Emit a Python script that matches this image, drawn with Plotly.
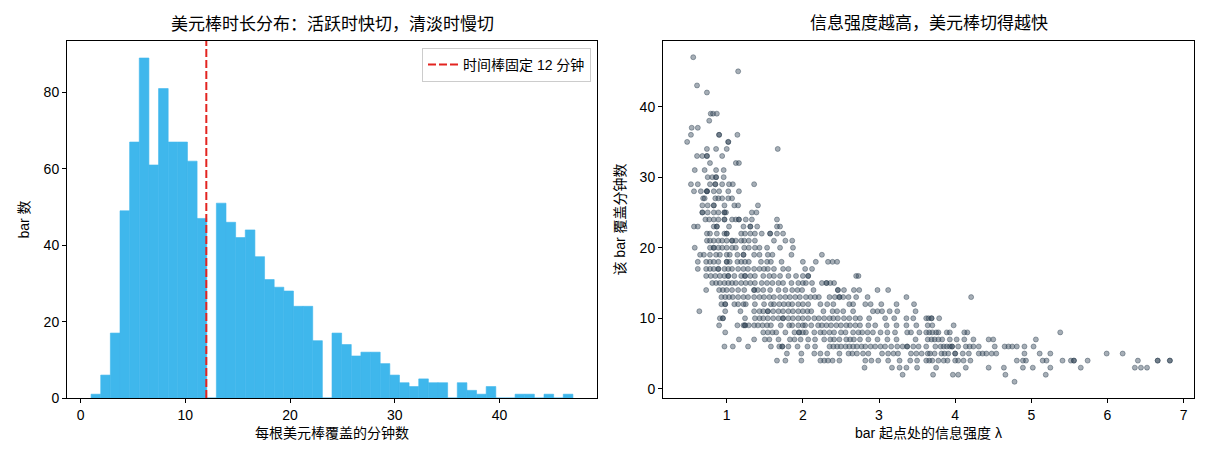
import numpy as np
import plotly.graph_objects as go

# ---- histogram data: how many bars cover N minutes ----
minutes = list(range(1, 48))
bar_counts = [1, 6, 17, 49, 67, 89, 61, 81, 67, 67, 62, 47,
              51, 46, 42, 44, 37, 31, 29, 28, 24, 24, 15,
              17, 14, 11, 12, 12, 9, 6, 4, 3, 5, 4, 4,
              4, 2, 1, 3, 0, 0, 1, 1, 0, 1, 0, 1]
n_bins = 50
time_bar_minutes = 12

# ---- scatter data: (minutes covered, list of intensity λ at bar start) ----
scatter_rows = [
    (47, [0.56]),
    (45, [1.15]),
    (43, [0.61]),
    (42, [0.74]),
    (39, [0.79, 0.82, 0.87]),
    (38, [0.77]),
    (37, [0.54, 0.62]),
    (36, [0.53, 0.90, 0.90, 1.14]),
    (35, [0.48, 1.02, 1.02]),
    (34, [0.74, 0.86, 1.00, 1.67]),
    (33, [0.61, 0.68, 0.74, 0.74, 0.94]),
    (32, [0.78, 1.12, 1.16]),
    (31, [0.58, 0.71, 0.86, 0.96]),
    (30, [0.75, 0.81, 0.86, 0.86, 0.96]),
    (29, [0.53, 0.62, 0.78, 0.85, 0.85, 0.94, 1.03, 1.08, 1.36]),
    (28, [0.57, 0.66, 0.74, 0.74, 0.74, 0.83, 0.90, 1.02, 1.16]),
    (27, [0.69, 0.71, 0.85, 0.89, 0.94, 1.02, 1.07]),
    (26, [0.68, 0.75, 0.83, 0.83, 0.97, 1.10, 1.15, 1.41]),
    (25, [0.68, 0.68, 0.75, 0.83, 0.89, 0.97, 0.97, 0.99, 1.33, 1.39]),
    (24, [0.72, 0.77, 0.83, 0.89, 0.97, 0.97, 1.07, 1.12, 1.16, 1.16, 1.25, 1.33, 1.66]),
    (23, [0.57, 0.62, 0.83, 0.87, 0.87, 1.03, 1.22, 1.31, 1.31, 1.40, 1.66, 1.70]),
    (22, [0.74, 0.78, 0.87, 0.97, 1.00, 1.00, 1.19, 1.24, 1.31, 1.37, 1.46, 1.57, 1.57,
          1.66, 1.74]),
    (21, [0.74, 0.78, 0.83, 0.89, 0.94, 1.00, 1.07, 1.07, 1.12, 1.19, 1.23, 1.29, 1.37,
          1.62, 1.77, 1.86]),
    (20, [0.58, 0.78, 0.83, 0.83, 0.89, 0.94, 1.00, 1.07, 1.12, 1.23, 1.29, 1.37, 1.43,
          1.53, 1.70, 1.87]),
    (19, [0.65, 0.70, 0.78, 0.86, 0.91, 1.00, 1.04, 1.14, 1.22, 1.22, 1.36, 1.43, 1.54,
          1.60, 1.85, 2.25]),
    (18, [0.62, 0.73, 0.78, 0.83, 0.89, 1.00, 1.00, 1.04, 1.14, 1.19, 1.24, 1.29, 1.45,
          1.53, 1.58, 1.72, 2.00, 2.17, 2.33, 2.39, 2.45]),
    (17, [0.62, 0.73, 0.78, 0.83, 0.89, 0.89, 0.97, 1.02, 1.07, 1.15, 1.22, 1.28, 1.36,
          1.43, 1.49, 1.54, 1.62, 1.74, 1.81, 2.03, 2.12]),
    (16, [0.73, 0.79, 0.85, 0.91, 0.97, 1.02, 1.02, 1.10, 1.19, 1.24, 1.24, 1.31, 1.37,
          1.48, 1.56, 1.62, 1.70, 1.81, 1.91, 2.00, 2.07, 2.07, 2.70, 2.73]),
    (15, [0.81, 0.86, 0.91, 0.97, 1.02, 1.07, 1.12, 1.19, 1.25, 1.31, 1.37, 1.46, 1.53,
          1.60, 1.68, 1.74, 1.85, 1.94, 2.00, 2.04, 2.12, 2.25, 2.31, 2.31, 2.36, 2.41]),
    (14, [0.73, 0.90, 0.95, 1.00, 1.07, 1.15, 1.23, 1.36, 1.36, 1.41, 1.48, 1.57, 1.68,
          1.77, 1.86, 1.93, 1.99, 2.14, 2.46, 2.46, 2.54, 2.67, 2.74, 2.98, 3.12]),
    (13, [0.93, 0.98, 1.03, 1.08, 1.15, 1.22, 1.28, 1.36, 1.43, 1.49, 1.56, 1.62, 1.70,
          1.77, 1.83, 1.90, 1.96, 2.04, 2.10, 2.16, 2.21, 2.35, 2.42, 2.48, 2.48, 2.53,
          2.60, 2.70, 2.85, 3.36, 4.21]),
    (12, [0.93, 0.98, 0.98, 1.10, 1.15, 1.22, 1.25, 1.37, 1.49, 1.58, 1.62, 1.69, 1.75,
          1.81, 1.86, 1.94, 2.00, 2.07, 2.23, 2.32, 2.40, 2.61, 2.66, 2.82, 2.89, 3.03,
          3.23, 3.46]),
    (11, [0.64, 0.98, 1.18, 1.36, 1.43, 1.48, 1.54, 1.54, 1.61, 1.68, 1.74, 1.81, 1.87,
          1.94, 2.00, 2.06, 2.11, 2.27, 2.39, 2.45, 2.53, 2.66, 2.92, 2.98, 3.04, 3.14,
          3.24, 3.48]),
    (10, [0.91, 0.95, 0.95, 1.24, 1.37, 1.43, 1.48, 1.54, 1.61, 1.68, 1.74, 1.74, 1.81,
          1.87, 1.94, 2.00, 2.07, 2.15, 2.21, 2.28, 2.35, 2.40, 2.46, 2.54, 2.61, 2.69,
          2.75, 2.87, 3.08, 3.20, 3.36, 3.45, 3.62, 3.65, 3.69, 3.69, 3.79]),
    (9, [0.90, 1.14, 1.22, 1.24, 1.24, 1.29, 1.36, 1.41, 1.47, 1.53, 1.58, 1.71, 1.82,
         1.86, 1.94, 2.00, 2.03, 2.11, 2.20, 2.25, 2.31, 2.37, 2.44, 2.50, 2.57, 2.62,
         2.69, 2.75, 2.86, 2.95, 3.10, 3.23, 3.36, 3.49, 3.64, 3.70, 3.98]),
    (8, [0.98, 1.48, 1.54, 1.60, 1.65, 1.77, 1.89, 1.95, 1.95, 2.00, 2.04, 2.15, 2.23,
         2.28, 2.35, 2.41, 2.50, 2.56, 2.66, 2.73, 2.78, 2.85, 2.92, 3.02, 3.11, 3.21,
         3.37, 3.42, 3.53, 3.62, 3.66, 3.70, 3.75, 3.78, 3.89, 3.93, 4.12, 4.16, 5.38]),
    (7, [1.16, 1.36, 1.50, 1.56, 1.68, 1.83, 1.89, 1.97, 2.07, 2.16, 2.28, 2.36, 2.41,
         2.48, 2.57, 2.62, 2.67, 2.75, 2.86, 2.98, 3.11, 3.23, 3.48, 3.64, 3.69, 3.73,
         3.78, 3.83, 3.93, 4.02, 4.12, 4.24, 4.44, 4.50, 5.06]),
    (6, [0.97, 1.08, 1.28, 1.58, 1.69, 1.73, 1.73, 1.81, 1.93, 2.06, 2.16, 2.35, 2.40,
         2.45, 2.50, 2.56, 2.61, 2.66, 2.71, 2.77, 2.82, 2.89, 2.95, 3.02, 3.08, 3.16,
         3.24, 3.31, 3.37, 3.37, 3.45, 3.52, 3.62, 3.74, 3.81, 3.85, 3.89, 3.93, 3.96,
         3.96, 4.04, 4.14, 4.19, 4.24, 4.31, 4.52, 4.65, 4.70, 4.75, 4.81, 4.91, 5.03]),
    (5, [1.79, 1.98, 2.15, 2.23, 2.32, 2.48, 2.60, 2.65, 2.71, 2.79, 2.86, 3.04, 3.12,
         3.19, 3.25, 3.42, 3.49, 3.56, 3.64, 3.67, 3.73, 3.82, 3.86, 3.91, 4.00, 4.00,
         4.10, 4.18, 4.31, 4.36, 4.41, 4.48, 4.54, 4.91, 5.11, 5.25, 5.99, 6.20]),
    (4, [1.66, 1.77, 1.98, 2.23, 2.28, 2.33, 2.39, 2.48, 2.82, 2.90, 2.99, 3.12, 3.27,
         3.41, 3.50, 3.62, 3.66, 3.70, 3.78, 3.85, 3.90, 4.00, 4.04, 4.11, 4.20, 4.81,
         4.89, 4.93, 5.15, 5.20, 5.41, 5.52, 5.56, 5.56, 5.74, 6.40, 6.66, 6.66, 6.82,
         6.82]),
    (3, [2.81, 3.17, 3.27, 3.36, 3.50, 3.75, 4.14, 4.44, 4.64, 4.89, 5.02, 5.25, 5.65,
         6.36, 6.44, 6.52]),
    (2, [3.31, 3.71, 3.97, 4.04, 4.66, 5.19]),
    (1, [4.78]),
]

FONT = "Liberation Sans, Noto Sans CJK SC, sans-serif"
BAR_BLUE = "#3fb7ec"
LINE_RED = "#e32420"
DOT = "44,62,80"

# histogram like matplotlib's hist(bins=50)
durations = np.repeat(minutes, bar_counts)
hist, edges = np.histogram(durations, bins=n_bins)
centers = (edges[:-1] + edges[1:]) / 2
widths = np.diff(edges)

lam = [x for m, xs in scatter_rows for x in xs]
cover = [m for m, xs in scatter_rows for x in xs]


def pad(lo, hi, frac=0.05):
    d = (hi - lo) * frac
    return [lo - d, hi + d]


fig = go.Figure()

fig.add_trace(go.Bar(
    x=centers, y=hist, width=widths,
    marker=dict(color=BAR_BLUE, line=dict(width=0.6, color=BAR_BLUE)),
    showlegend=False, xaxis="x", yaxis="y",
))

y1_range = [0, hist.max() * 1.05]
fig.add_trace(go.Scatter(
    x=[time_bar_minutes, time_bar_minutes], y=y1_range,
    mode="lines", line=dict(color=LINE_RED, width=2, dash="8px,3px"),
    name="时间棒固定 12 分钟", xaxis="x", yaxis="y",
))

fig.add_trace(go.Scatter(
    x=lam, y=cover, mode="markers",
    marker=dict(size=5, color=f"rgba({DOT},0.42)",
                line=dict(width=0.7, color=f"rgba({DOT},0.6)")),
    showlegend=False, xaxis="x2", yaxis="y2",
))

ax_style = dict(
    showline=True, mirror=True, linecolor="black", linewidth=1,
    ticks="outside", ticklen=4, tickwidth=1, tickcolor="black",
    showgrid=False, zeroline=False, automargin=False,
    tickfont=dict(size=14, color="black", family=FONT),
    title_font=dict(size=14, color="black", family=FONT),
)

# plot areas in pixels (reference): left 67-597, right 663-1194, top 41, bottom 398
W, H = 1210, 462
ML, MR, MT, MB = 67, W - 1194, 41, H - 398
PW = W - ML - MR
PH = H - MT - MB

fig.update_layout(
    width=W, height=H,
    margin=dict(l=ML, r=MR, t=MT, b=MB, autoexpand=False),
    paper_bgcolor="white", plot_bgcolor="white",
    font=dict(family=FONT, color="black"),
    xaxis=dict(domain=[0, (597 - ML) / PW], range=pad(edges[0], edges[-1]),
               tickvals=[0, 10, 20, 30, 40],
               title=dict(text="每根美元棒覆盖的分钟数", standoff=6),
               anchor="y", **ax_style),
    yaxis=dict(domain=[0, 1], range=y1_range, tickvals=[0, 20, 40, 60, 80],
               title=dict(text="bar 数", standoff=10), anchor="x", **ax_style),
    xaxis2=dict(domain=[(663 - ML) / PW, 1], range=pad(min(lam), max(lam)),
                tickvals=[1, 2, 3, 4, 5, 6, 7],
                title=dict(text="bar 起点处的信息强度 λ", standoff=6),
                anchor="y2", **ax_style),
    yaxis2=dict(domain=[0, 1], range=pad(min(cover), max(cover)),
                tickvals=[0, 10, 20, 30, 40],
                title=dict(text="该 bar 覆盖分钟数", standoff=10),
                anchor="x2", **ax_style),
    legend=dict(x=(591 - ML) / PW, xanchor="right", y=1 - 7 / PH, yanchor="top",
                bgcolor="white", bordercolor="#cccccc", borderwidth=1,
                font=dict(size=14, family=FONT, color="black")),
    annotations=[
        dict(text="美元棒时长分布：活跃时快切，清淡时慢切",
             x=((67 + 597) / 2 - ML) / PW, y=1 + 17 / PH,
             xref="paper", yref="paper", xanchor="center", yanchor="middle",
             showarrow=False, font=dict(size=17, family=FONT)),
        dict(text="信息强度越高，美元棒切得越快",
             x=((663 + 1194) / 2 - ML) / PW, y=1 + 17 / PH,
             xref="paper", yref="paper", xanchor="center", yanchor="middle",
             showarrow=False, font=dict(size=17, family=FONT)),
    ],
)

# the page's default body margin would shift the figure by 8px
fig.write_html("out.html", config={"displayModeBar": False},
               post_script="document.body.style.margin='0';")
